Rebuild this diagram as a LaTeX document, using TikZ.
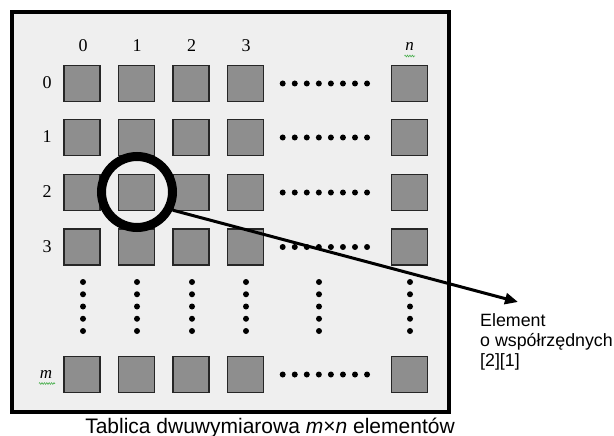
\documentclass[tikz,border=0pt]{standalone}
\usepackage{fontspec}
\setmainfont{Liberation Serif}
\setsansfont{Liberation Sans}
\usetikzlibrary{arrows.meta,decorations.pathmorphing}
\definecolor{bg}{HTML}{EFEFEF}
\definecolor{cell}{HTML}{8E8E8E}
\definecolor{squig}{HTML}{4CB050}
\begin{document}
\begin{tikzpicture}[x=1pt,y=-1pt,
  cellbox/.style={draw=black!85, fill=cell, line width=1.1pt, minimum size=36pt, inner sep=0pt},
  idx/.style={font=\fontsize{18}{18}\selectfont, inner sep=0pt},
  idxit/.style={font=\fontsize{17}{17}\selectfont\itshape, inner sep=0pt},
  dotmark/.style={circle, fill=black, inner sep=0pt, minimum size=6pt},
  squiggle/.style={draw=squig, line width=0.6pt, decorate, decoration={zigzag, segment length=2.4pt, amplitude=0.9pt}}]
\useasboundingbox (0,0) rectangle (614,436);
\node[draw, line width=4pt, fill=bg, minimum width=436.5pt, minimum height=400pt, inner sep=0pt, anchor=north west] (frame) at (10,10) {};
% cells
\foreach \r/\y in {0/83.5,1/137.5,2/192.5,3/247,m/374.5}
  \foreach \c/\x in {0/82,1/136.5,2/191,3/245.5,n/409.5}
    \node[cellbox] (c\r\c) at (\x,\y) {};
% column labels
\foreach \c/\x in {0/83,1/137,2/191.5,3/246}
  \node[idx] (col\c) at (\x,46) {\c};
\node[idxit] (coln) at (409.5,46) {n};
\draw[squiggle] (404.5,56) -- (415,56);
% row labels
\foreach \r/\y in {0/83,1/137,2/192,3/246.5}
  \node[idx] (row\r) at (47,\y) {\r};
\node[idxit] (rowm) at (46,374) {m};
\draw[squiggle] (39,383.5) -- (55,383.5);
% horizontal dots
\foreach \r/\y in {0/83.5,1/137.5,2/192.5,3/247,m/374.5}
  \foreach \i in {0,...,7}
    \node[dotmark] (h\r\i) at (282.7+12.05*\i,\y) {};
% vertical dots
\foreach \k/\x in {0/83,1/137,2/192,3/246,4/319,5/410}
  \foreach \i in {0,...,4}
    \node[dotmark] (v\k\i) at (\x,282+12.25*\i) {};
% lens and arrow
\node[circle, draw, line width=9pt, minimum size=71pt, inner sep=0pt] (lens) at (137,192) {};
\coordinate (tip) at (518,302);
\draw[line width=3pt, -{Triangle[length=13pt,width=11pt]}] (lens.-27) -- (tip);
\node[anchor=north west, align=left, inner sep=0pt, font=\sffamily\fontsize{17.8}{20}\selectfont] (lbl) at (480,313.5) {Element\\o współrzędnych\\{[2][1]}};
% caption
\node[anchor=base, inner sep=0pt, font=\sffamily\fontsize{21}{21}\selectfont] (cap) at (270,433) {Tablica dwuwymiarowa \textit{m}×\textit{n} elementów};
\end{tikzpicture}
\end{document}
